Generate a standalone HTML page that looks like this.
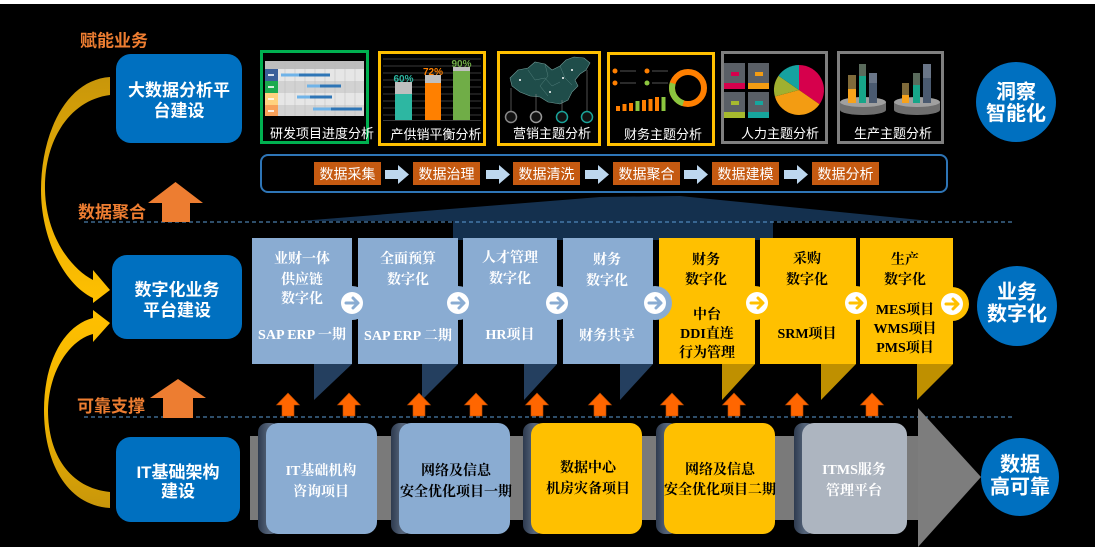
<!DOCTYPE html>
<html><head><meta charset="utf-8"><style>
html,body{margin:0;padding:0;background:#000;}
svg{display:block;}
</style></head><body>
<svg width="1095" height="547" viewBox="0 0 1095 547" xmlns="http://www.w3.org/2000/svg">
<defs>
<linearGradient id="gUp" x1="0" y1="0" x2="0" y2="1"><stop offset="0" stop-color="#C8960A"/><stop offset="0.5" stop-color="#E8AE05"/><stop offset="1" stop-color="#FFC000"/></linearGradient>
<linearGradient id="gDn" x1="0" y1="0" x2="0" y2="1"><stop offset="0" stop-color="#FFC000"/><stop offset="0.5" stop-color="#F0B400"/><stop offset="1" stop-color="#C8960A"/></linearGradient>
<linearGradient id="roll" x1="0" y1="0" x2="1" y2="0"><stop offset="0" stop-color="#2E3B4F"/><stop offset="0.5" stop-color="#56657B"/><stop offset="1" stop-color="#3A485E"/></linearGradient>
</defs>
<rect x="0" y="0" width="1095" height="547" fill="#000"/>
<rect x="0" y="0" width="1095" height="4" fill="#fff"/>

<!-- dark trapezoid -->
<polygon points="300,221 600,197 680,196 930,221 773,221 773,240 453,240 453,221" fill="#14304E"/>

<!-- dashed lines -->
<line x1="84" y1="222" x2="1013" y2="222" stroke="#5B9BD5" stroke-width="1" stroke-dasharray="4,3"/>
<line x1="84" y1="417" x2="1013" y2="417" stroke="#5B9BD5" stroke-width="1" stroke-dasharray="4,3"/>

<!-- left arcs -->
<path d="M110,77 C65,80 41,135 41,190 C41,240 65,285 93,298 L93,303 L110,290 L93,270 L93,280 C70,268 46,235 45,190 C44,140 70,100 110,95 Z" fill="url(#gUp)"/>
<path d="M110,508 C65,505 44,460 44,410 C44,360 65,325 93,318 L93,310 L110,323 L93,342 L93,334 C70,340 49,370 48,410 C48,455 70,488 110,492 Z" fill="url(#gDn)"/>

<!-- section labels -->
<g font-family="'Liberation Sans','Noto Sans CJK SC',sans-serif" font-weight="bold" font-size="17" fill="#ED7D31">
<text x="80" y="46.5">赋能业务</text>
<text x="78" y="218">数据聚合</text>
<text x="77" y="412">可靠支撑</text>
</g>

<!-- big orange arrows -->
<polygon points="148,203 175.5,182 203,203 190,203 190,222 162,222 162,203" fill="#ED7D31"/>
<polygon points="150,398 178,379 206,398 193,398 193,418 163,418 163,398" fill="#ED7D31"/>

<!-- blue rounded boxes -->
<rect x="116" y="54" width="126" height="89" rx="15" fill="#0070C0"/>
<rect x="112" y="255" width="130" height="84" rx="15" fill="#0070C0"/>
<rect x="116" y="437" width="124" height="85" rx="15" fill="#0070C0"/>
<g font-family="'Liberation Sans','Noto Sans CJK SC',sans-serif" font-weight="bold" font-size="17" fill="#fff" text-anchor="middle">
<text x="179" y="96">大数据分析平</text>
<text x="179" y="116.5">台建设</text>
<text x="177" y="295.5">数字化业务</text>
<text x="177" y="316">平台建设</text>
<text x="178" y="478">IT基础架构</text>
<text x="178" y="497">建设</text>
</g>

<!-- right circles -->
<circle cx="1016" cy="102" r="40" fill="#0070C0"/>
<circle cx="1017" cy="306" r="40" fill="#0070C0"/>
<circle cx="1020" cy="477" r="39" fill="#0070C0"/>
<g font-family="'Liberation Sans','Noto Sans CJK SC',sans-serif" font-weight="bold" font-size="20" fill="#fff" text-anchor="middle">
<text x="1016" y="98.5">洞察</text>
<text x="1016" y="120">智能化</text>
<text x="1017" y="298.5">业务</text>
<text x="1017" y="320.5">数字化</text>
<text x="1020" y="471">数据</text>
<text x="1020" y="493.5">高可靠</text>
</g>

<!-- thumbnails borders -->
<rect x="261.5" y="51.5" width="106" height="91" fill="#000" stroke="#00B050" stroke-width="3"/>
<rect x="379.5" y="52.5" width="105" height="92" fill="#000" stroke="#FFC000" stroke-width="3"/>
<rect x="498.5" y="52.5" width="101" height="92" fill="#000" stroke="#FFC000" stroke-width="3"/>
<rect x="608.5" y="53.5" width="105" height="91" fill="#000" stroke="#FFC000" stroke-width="3"/>
<rect x="722.5" y="52.5" width="104" height="90" fill="#000" stroke="#7F7F7F" stroke-width="3"/>
<rect x="838.5" y="52.5" width="104" height="90" fill="#000" stroke="#7F7F7F" stroke-width="3"/>

<!-- thumb1 gantt -->
<rect x="265" y="61" width="99" height="55" fill="#DADADA"/>
<rect x="265" y="61" width="99" height="8" fill="#BDBDBD"/>
<rect x="278" y="69" width="86" height="12" fill="#E6E6E6"/>
<rect x="278" y="81" width="86" height="12" fill="#D2D2D2"/>
<rect x="278" y="93" width="86" height="12" fill="#E6E6E6"/>
<rect x="278" y="105" width="86" height="11" fill="#D2D2D2"/>
<rect x="265" y="69" width="13" height="12" fill="#3A5F9A"/>
<rect x="265" y="81" width="13" height="12" fill="#1BAA4F"/>
<rect x="265" y="93" width="13" height="12" fill="#FFD27F"/>
<rect x="265" y="105" width="13" height="11" fill="#F8A15A"/>
<g fill="#fff" opacity="0.8"><rect x="268" y="74" width="6" height="2"/><rect x="268" y="86" width="6" height="2"/><rect x="268" y="98" width="6" height="2"/><rect x="268" y="110" width="6" height="2"/></g>
<g stroke="#bbb" stroke-width="0.5"><line x1="285" y1="61" x2="285" y2="116"/><line x1="295" y1="61" x2="295" y2="116"/><line x1="305" y1="61" x2="305" y2="116"/><line x1="315" y1="61" x2="315" y2="116"/><line x1="325" y1="61" x2="325" y2="116"/><line x1="335" y1="61" x2="335" y2="116"/><line x1="345" y1="61" x2="345" y2="116"/><line x1="355" y1="61" x2="355" y2="116"/></g>
<rect x="281" y="73.5" width="18" height="3" fill="#6FB3E8"/><rect x="299" y="73.5" width="31" height="3" fill="#2E75B6"/>
<rect x="307" y="84.5" width="13" height="3" fill="#6FB3E8"/><rect x="320" y="84.5" width="21" height="3" fill="#2E75B6"/>
<rect x="297" y="95.5" width="13" height="3" fill="#6FB3E8"/><rect x="310" y="95.5" width="22" height="3" fill="#2E75B6"/>
<rect x="313" y="107.5" width="18" height="3" fill="#6FB3E8"/><rect x="331" y="107.5" width="31" height="3" fill="#2E75B6"/>

<!-- thumb2 bars -->
<g stroke="#3A3A3A" stroke-width="1">
<line x1="383" y1="59" x2="481" y2="59"/><line x1="383" y1="66" x2="481" y2="66"/><line x1="383" y1="73" x2="481" y2="73"/><line x1="383" y1="80" x2="481" y2="80"/><line x1="383" y1="87" x2="481" y2="87"/><line x1="383" y1="94" x2="481" y2="94"/><line x1="383" y1="101" x2="481" y2="101"/><line x1="383" y1="108" x2="481" y2="108"/><line x1="383" y1="115" x2="481" y2="115"/><line x1="383" y1="120.5" x2="481" y2="120.5"/>
</g>
<rect x="395" y="82" width="17" height="12" fill="#BFBFBF"/><rect x="395" y="94" width="17" height="26" fill="#2DB7A2"/>
<rect x="425" y="75" width="16" height="8" fill="#BFBFBF"/><rect x="425" y="83" width="16" height="37" fill="#FF8000"/>
<rect x="453" y="67" width="17" height="4" fill="#BFBFBF"/><rect x="453" y="71" width="17" height="49" fill="#70AD47"/>
<g font-family="'Liberation Sans',sans-serif" font-weight="bold" font-size="10" text-anchor="middle">
<text x="403.5" y="82" fill="#2DB7A2">60%</text>
<text x="433" y="75" fill="#FF8000">72%</text>
<text x="461.5" y="67" fill="#70AD47">90%</text>
</g>

<!-- thumb3 map -->
<polygon points="510,78 518,70 528,68 535,62 545,64 552,70 560,66 566,60 574,57 584,58 590,63 586,70 580,74 575,80 578,86 572,92 568,100 560,104 548,102 540,97 530,96 520,92 512,86" fill="#1F4D4A" stroke="#6F9A96" stroke-width="0.6"/>
<g stroke="#5E8C88" stroke-width="0.4" fill="none"><path d="M528,70 L535,80 L545,78 L552,86 L560,82"/><path d="M545,64 L548,76 L540,86 L548,96"/><path d="M560,66 L565,78 L572,85"/></g>
<g stroke="#888" stroke-width="0.6"><line x1="511" y1="88" x2="511" y2="111"/><line x1="536" y1="94" x2="536" y2="111"/><line x1="562" y1="100" x2="562" y2="111"/><line x1="587" y1="70" x2="587" y2="111"/></g>
<g fill="#fff"><circle cx="520" cy="80" r="1"/><circle cx="550" cy="92" r="1"/><circle cx="563" cy="78" r="1"/><circle cx="572" cy="70" r="1"/></g>
<circle cx="511" cy="117" r="5.5" fill="#111" stroke="#888" stroke-width="1.5"/>
<circle cx="536" cy="117" r="5.5" fill="#111" stroke="#999" stroke-width="1.5"/>
<circle cx="562" cy="117" r="5.5" fill="#111" stroke="#1AA39A" stroke-width="1.5"/>
<circle cx="587" cy="117" r="5.5" fill="#111" stroke="#1AA39A" stroke-width="1.5"/>

<!-- thumb4 finance -->
<circle cx="615" cy="71" r="2.5" fill="#FF7F00"/><circle cx="647" cy="71" r="2.5" fill="#FF7F00"/>
<circle cx="615" cy="83" r="2.5" fill="#FF7F00"/><circle cx="647" cy="83" r="2.5" fill="#8CC63F"/>
<g stroke="#555" stroke-width="1"><line x1="620" y1="71" x2="636" y2="71"/><line x1="652" y1="71" x2="668" y2="71"/><line x1="620" y1="83" x2="636" y2="83"/><line x1="652" y1="83" x2="668" y2="83"/></g>
<rect x="616" y="106" width="4" height="5" fill="#FF7F00"/>
<rect x="622.5" y="104" width="4" height="7" fill="#FF7F00"/>
<rect x="629" y="103" width="4" height="8" fill="#FF7F00"/>
<rect x="635.5" y="101" width="4" height="10" fill="#8CC63F"/>
<rect x="642" y="100" width="4" height="11" fill="#FF7F00"/>
<rect x="648.5" y="99" width="4" height="12" fill="#FF7F00"/>
<rect x="655" y="97" width="4" height="14" fill="#FF7F00"/>
<rect x="661.5" y="97" width="4" height="14" fill="#8CC63F"/>
<circle cx="688" cy="88" r="16" fill="none" stroke="#FF7F00" stroke-width="6"/>
<circle cx="688" cy="88" r="16" fill="none" stroke="#8CC63F" stroke-width="6" stroke-dasharray="25 76" stroke-dashoffset="-30"/>

<!-- thumb5 HR -->
<rect x="724" y="63" width="21" height="26" fill="#5A5F66"/><rect x="724" y="83" width="21" height="6" fill="#D6004C"/><rect x="731" y="72" width="8" height="4" fill="#D6004C"/>
<rect x="748" y="63" width="21" height="26" fill="#5A5F66"/><rect x="748" y="83" width="21" height="6" fill="#F39C12"/><rect x="755" y="72" width="8" height="4" fill="#F39C12"/>
<rect x="724" y="92" width="21" height="26" fill="#5A5F66"/><rect x="724" y="112" width="21" height="6" fill="#A6B92E"/><rect x="731" y="101" width="8" height="4" fill="#A6B92E"/>
<rect x="748" y="92" width="21" height="26" fill="#5A5F66"/><rect x="748" y="112" width="21" height="6" fill="#16A59D"/><rect x="755" y="101" width="8" height="4" fill="#16A59D"/>
<path d="M799,90 L799,65 A25,25 0 0 1 819.5,104.3 Z" fill="#D6004C"/>
<path d="M799,90 L819.5,104.3 A25,25 0 0 1 774.9,96.5 Z" fill="#F39C12"/>
<path d="M799,90 L774.9,96.5 A25,25 0 0 1 778.5,75.7 Z" fill="#A0B030"/>
<path d="M799,90 L778.5,75.7 A25,25 0 0 1 799,65 Z" fill="#16A2A0"/>

<!-- thumb6 production -->
<path d="M840,102 L840,110 A23,5 0 0 0 886,110 L886,102 Z" fill="#6E6E6E"/>
<ellipse cx="863" cy="102" rx="23" ry="5" fill="#A0A0A0"/>
<rect x="848" y="75" width="8" height="14" fill="#7F6A3A"/><rect x="848" y="89" width="8" height="14" fill="#F7A21B"/>
<rect x="859" y="64" width="7" height="12" fill="#5A6B5C"/><rect x="859" y="76" width="7" height="27" fill="#17A589"/>
<rect x="869" y="73" width="8" height="10" fill="#6A7688"/><rect x="869" y="83" width="8" height="20" fill="#4A5A70"/>
<path d="M894,102 L894,110 A23,5 0 0 0 940,110 L940,102 Z" fill="#6E6E6E"/>
<ellipse cx="917" cy="102" rx="23" ry="5" fill="#A0A0A0"/>
<rect x="902" y="83" width="7" height="12" fill="#7F6A3A"/><rect x="902" y="95" width="7" height="8" fill="#F7A21B"/>
<rect x="913" y="73" width="7" height="12" fill="#5A6B5C"/><rect x="913" y="85" width="7" height="18" fill="#17A589"/>
<rect x="923" y="64" width="8" height="14" fill="#6A7688"/><rect x="923" y="78" width="8" height="25" fill="#4A5A70"/>

<!-- captions -->
<g font-family="'Liberation Sans','Noto Sans CJK SC',sans-serif" font-size="13" fill="#fff" text-anchor="middle">
<text x="322" y="138">研发项目进度分析</text>
<text x="436" y="139">产供销平衡分析</text>
<text x="552" y="138">营销主题分析</text>
<text x="663" y="139">财务主题分析</text>
<text x="780" y="138">人力主题分析</text>
<text x="893" y="138">生产主题分析</text>
</g>

<!-- process bar -->
<rect x="261" y="155" width="686" height="37" rx="7" fill="none" stroke="#2E75B6" stroke-width="2"/>
<g fill="#C55A11">
<rect x="314" y="162" width="67" height="23"/><rect x="413" y="162" width="67" height="23"/><rect x="513" y="162" width="67" height="23"/><rect x="613" y="162" width="67" height="23"/><rect x="712" y="162" width="67" height="23"/><rect x="812" y="162" width="67" height="23"/>
</g>
<g fill="#BDD7EE">
<polygon points="385,170 398,170 398,165 409,174.5 398,184 398,179 385,179"/>
<polygon points="486,170 499,170 499,165 510,174.5 499,184 499,179 486,179"/>
<polygon points="585,170 598,170 598,165 609,174.5 598,184 598,179 585,179"/>
<polygon points="684,170 697,170 697,165 708,174.5 697,184 697,179 684,179"/>
<polygon points="784,170 797,170 797,165 808,174.5 797,184 797,179 784,179"/>
</g>
<g font-family="'Liberation Sans','Noto Sans CJK SC',sans-serif" font-size="14" fill="#fff" text-anchor="middle">
<text x="347.5" y="179">数据采集</text>
<text x="446.5" y="179">数据治理</text>
<text x="546.5" y="179">数据清洗</text>
<text x="646.5" y="179">数据聚合</text>
<text x="745.5" y="179">数据建模</text>
<text x="845.5" y="179">数据分析</text>
</g>

<!-- middle row boxes -->
<g fill="#8AACD2">
<rect x="252" y="238" width="100" height="126"/>
<rect x="358" y="238" width="100" height="126"/>
<rect x="463" y="238" width="94" height="126"/>
<rect x="563" y="238" width="90" height="126"/>
</g>
<g fill="#FFC000">
<rect x="659" y="238" width="96" height="126"/>
<rect x="760" y="238" width="96" height="126"/>
<rect x="860" y="238" width="93" height="126"/>
</g>
<g fill="#243F5F">
<polygon points="314,364 352,364 314,400"/>
<polygon points="422,364 458,364 422,400"/>
<polygon points="524,364 557,364 524,400"/>
<polygon points="620,364 653,364 620,400"/>
</g>
<g fill="#BF9000">
<polygon points="722,364 755,364 722,400"/>
<polygon points="821,364 856,364 821,400"/>
<polygon points="917,364 953,364 917,400"/>
</g>
<!-- tabs -->
<g>
<circle cx="352" cy="303" r="17" fill="#8AACD2"/><circle cx="352" cy="303" r="11" fill="#fff"/>
<path d="M346,303 L357,303 M353,298 L358,303 L353,308" stroke="#8AACD2" stroke-width="3" fill="none" stroke-linecap="round" stroke-linejoin="round"/>
<circle cx="458" cy="303" r="17" fill="#8AACD2"/><circle cx="458" cy="303" r="11" fill="#fff"/>
<path d="M452,303 L463,303 M459,298 L464,303 L459,308" stroke="#8AACD2" stroke-width="3" fill="none" stroke-linecap="round" stroke-linejoin="round"/>
<circle cx="557" cy="303" r="17" fill="#8AACD2"/><circle cx="557" cy="303" r="11" fill="#fff"/>
<path d="M551,303 L562,303 M558,298 L563,303 L558,308" stroke="#8AACD2" stroke-width="3" fill="none" stroke-linecap="round" stroke-linejoin="round"/>
<circle cx="655" cy="303" r="17" fill="#8AACD2"/><circle cx="655" cy="303" r="11" fill="#fff"/>
<path d="M649,303 L660,303 M656,298 L661,303 L656,308" stroke="#8AACD2" stroke-width="3" fill="none" stroke-linecap="round" stroke-linejoin="round"/>
<circle cx="755" cy="303" r="17" fill="#FFC000"/><circle cx="757" cy="303" r="11" fill="#fff"/>
<path d="M751,303 L762,303 M758,298 L763,303 L758,308" stroke="#FFC000" stroke-width="3" fill="none" stroke-linecap="round" stroke-linejoin="round"/>
<circle cx="856" cy="303" r="17" fill="#FFC000"/><circle cx="856" cy="303" r="11" fill="#fff"/>
<path d="M850,303 L861,303 M857,298 L862,303 L857,308" stroke="#FFC000" stroke-width="3" fill="none" stroke-linecap="round" stroke-linejoin="round"/>
<circle cx="952" cy="304" r="17" fill="#FFC000"/><circle cx="952" cy="304" r="11" fill="#fff"/>
<path d="M946,304 L957,304 M953,299 L958,304 L953,309" stroke="#FFC000" stroke-width="3" fill="none" stroke-linecap="round" stroke-linejoin="round"/>
</g>
<!-- middle row text -->
<g font-family="'Liberation Serif','Noto Serif CJK SC',serif" font-weight="bold" font-size="14" text-anchor="middle">
<g fill="#fff">
<text x="302" y="263">业财一体</text><text x="302" y="284">供应链</text><text x="302" y="303">数字化</text><text x="302" y="339">SAP ERP 一期</text>
<text x="408" y="263">全面预算</text><text x="408" y="284">数字化</text><text x="408" y="340">SAP ERP 二期</text>
<text x="510" y="262">人才管理</text><text x="510" y="283">数字化</text><text x="510" y="339">HR项目</text>
<text x="607" y="264">财务</text><text x="607" y="285">数字化</text><text x="607" y="340">财务共享</text>
</g>
<g fill="#000">
<text x="706" y="264">财务</text><text x="706" y="284">数字化</text><text x="707" y="319">中台</text><text x="707" y="338">DDI直连</text><text x="707" y="357">行为管理</text>
<text x="807" y="263">采购</text><text x="807" y="284">数字化</text><text x="807" y="338">SRM项目</text>
<text x="905" y="264">生产</text><text x="905" y="284">数字化</text><text x="905" y="314">MES项目</text><text x="905" y="333">WMS项目</text><text x="905" y="352">PMS项目</text>
</g>
</g>

<!-- small orange arrows -->
<g fill="#FF6600" stroke="#B84A00" stroke-width="0.6">
<polygon points="276.5,405 288,393 299.5,405 294,405 294,416 282,416 282,405"/>
<polygon points="337.5,405 349,393 360.5,405 355,405 355,416 343,416 343,405"/>
<polygon points="407.5,405 419,393 430.5,405 425,405 425,416 413,416 413,405"/>
<polygon points="464.5,405 476,393 487.5,405 482,405 482,416 470,416 470,405"/>
<polygon points="525.5,405 537,393 548.5,405 543,405 543,416 531,416 531,405"/>
<polygon points="588.5,405 600,393 611.5,405 606,405 606,416 594,416 594,405"/>
<polygon points="660.5,405 672,393 683.5,405 678,405 678,416 666,416 666,405"/>
<polygon points="722.5,405 734,393 745.5,405 740,405 740,416 728,416 728,405"/>
<polygon points="785.5,405 797,393 808.5,405 803,405 803,416 791,416 791,405"/>
<polygon points="860.5,405 872,393 883.5,405 878,405 878,416 866,416 866,405"/>
</g>

<!-- bottom band + arrow -->
<rect x="250" y="436" width="670" height="84" fill="#7A7A7A"/>
<polygon points="918,408 981,477 918,547" fill="#7D7D7D"/>

<!-- bottom boxes -->
<rect x="258" y="423" width="22" height="111" rx="9" fill="url(#roll)"/>
<rect x="266" y="423" width="111" height="111" rx="12" fill="#8AACD2"/>
<rect x="391" y="423" width="22" height="111" rx="9" fill="url(#roll)"/>
<rect x="399" y="423" width="111" height="111" rx="12" fill="#8AACD2"/>
<rect x="523" y="423" width="22" height="111" rx="9" fill="url(#roll)"/>
<rect x="531" y="423" width="111" height="111" rx="12" fill="#FFC000"/>
<rect x="656" y="423" width="22" height="111" rx="9" fill="url(#roll)"/>
<rect x="664" y="423" width="111" height="111" rx="12" fill="#FFC000"/>
<rect x="794" y="423" width="22" height="111" rx="9" fill="url(#roll)"/>
<rect x="802" y="423" width="105" height="111" rx="12" fill="#ADB5C0"/>

<g font-family="'Liberation Serif','Noto Serif CJK SC',serif" font-weight="bold" font-size="14" text-anchor="middle">
<text x="321" y="475" fill="#fff">IT基础机构</text><text x="321" y="496" fill="#fff">咨询项目</text>
<text x="456" y="475" fill="#000">网络及信息</text><text x="456" y="496" fill="#000">安全优化项目一期</text>
<text x="588" y="472" fill="#000">数据中心</text><text x="588" y="493" fill="#000">机房灾备项目</text>
<text x="720" y="474" fill="#000">网络及信息</text><text x="720" y="494" fill="#000">安全优化项目二期</text>
<text x="854" y="474" fill="#fff">ITMS服务</text><text x="854" y="495" fill="#fff">管理平台</text>
</g>
</svg>
</body></html>
